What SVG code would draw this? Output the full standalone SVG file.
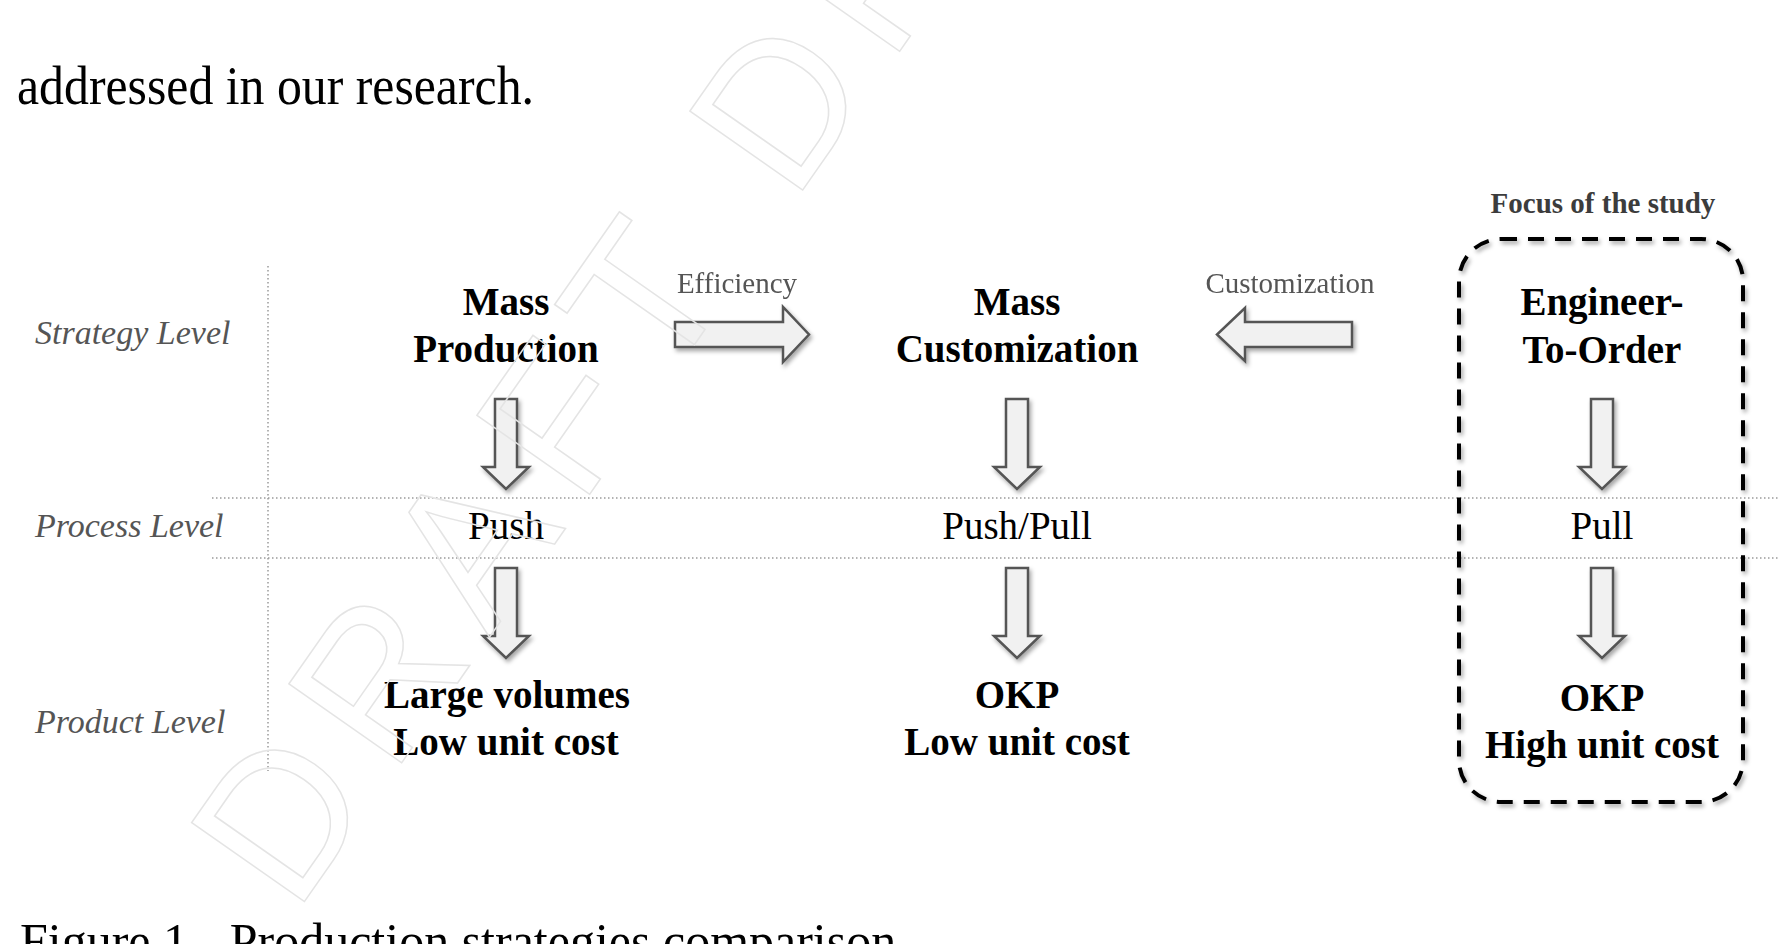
<svg xmlns="http://www.w3.org/2000/svg" xmlns:xlink="http://www.w3.org/1999/xlink" width="1778" height="944" viewBox="0 0 1778 944">
<style>
.para{font-family:"Liberation Serif",serif;font-size:54px;fill:#000}
.cap{font-family:"Liberation Serif",serif;font-size:50px;fill:#000}
.lvl{font-family:"Liberation Serif",serif;font-style:italic;font-size:34px;fill:#555}
.b{font-family:"Liberation Serif",serif;font-weight:bold;font-size:39px;fill:#000;text-anchor:middle}
.r{font-family:"Liberation Serif",serif;font-size:39px;fill:#000;text-anchor:middle}
.lab{font-family:"Liberation Serif",serif;font-size:29px;fill:#555;text-anchor:middle}
.focus{font-family:"Liberation Serif",serif;font-weight:bold;font-size:29px;fill:#3c3c3c;text-anchor:middle}
.dot{stroke:#9a9a9a;stroke-width:1.5;stroke-dasharray:1.5 2.5;fill:none}
.arr{fill:#f1f1f1;stroke:#555;stroke-width:2.5;stroke-linejoin:miter}
.wm{font-family:"Liberation Sans",sans-serif;font-size:200px;letter-spacing:25px;fill:none;stroke:#e4e4e4;stroke-width:1.5}
</style>
<defs>
<filter id="sh" x="-30%" y="-30%" width="160%" height="160%">
<feDropShadow dx="2" dy="3" stdDeviation="2" flood-color="#000" flood-opacity="0.35"/>
</filter>
<path id="down" d="M-11,0 H11 V68 H23 L0,90 L-23,68 H-11 Z"/>
</defs>
<rect width="1778" height="944" fill="#fff"/>

<text class="para" x="17" y="104" textLength="517" lengthAdjust="spacingAndGlyphs">addressed in our research.</text>

<g id="grid">
<line class="dot" x1="268" y1="266" x2="268" y2="771"/>
<line class="dot" x1="212" y1="498" x2="1778" y2="498"/>
<line class="dot" x1="212" y1="558" x2="1778" y2="558"/>
</g>

<g id="levels">
<text class="lvl" x="35" y="344">Strategy Level</text>
<text class="lvl" x="35" y="537">Process Level</text>
<text class="lvl" x="35" y="733">Product Level</text>
</g>

<g id="focus-box">
<text class="focus" x="1603" y="213">Focus of the study</text>
<rect x="1459" y="239" width="284" height="563" rx="42" ry="42" fill="none" stroke="#000" stroke-width="4" stroke-dasharray="16 11" filter="url(#sh)"/>
</g>

<g id="mass-production">
<text class="b" x="506" y="315">Mass</text>
<text class="b" x="506" y="362">Production</text>
</g>
<g id="mass-customization">
<text class="b" x="1017" y="315">Mass</text>
<text class="b" x="1017" y="362">Customization</text>
</g>
<g id="engineer-to-order">
<text class="b" x="1602" y="315">Engineer-</text>
<text class="b" x="1602" y="363">To-Order</text>
</g>

<g id="push"><text class="r" x="506" y="539">Push</text></g>
<g id="push-pull"><text class="r" x="1017" y="539">Push/Pull</text></g>
<g id="pull"><text class="r" x="1602" y="539">Pull</text></g>

<g id="mp-product">
<text class="b" x="507" y="708">Large volumes</text>
<text class="b" x="506" y="755">Low unit cost</text>
</g>
<g id="mc-product">
<text class="b" x="1017" y="708">OKP</text>
<text class="b" x="1017" y="755">Low unit cost</text>
</g>
<g id="eto-product">
<text class="b" x="1602" y="711">OKP</text>
<text class="b" x="1602" y="758">High unit cost</text>
</g>

<g id="connectors">
<g filter="url(#sh)">
<path class="arr" d="M675,322 H783 V307 L809,334.5 L783,362 V347 H675 Z"/>
<path class="arr" d="M1352,322 H1245 V308 L1217,334.5 L1245,361 V347 H1352 Z"/>
<use class="arr" xlink:href="#down" href="#down" x="506" y="399"/>
<use class="arr" xlink:href="#down" href="#down" x="1017" y="399"/>
<use class="arr" xlink:href="#down" href="#down" x="1602" y="399"/>
<use class="arr" xlink:href="#down" href="#down" x="506" y="568"/>
<use class="arr" xlink:href="#down" href="#down" x="1017" y="568"/>
<use class="arr" xlink:href="#down" href="#down" x="1602" y="568"/>
</g>
<text class="lab" x="737" y="293">Efficiency</text>
<text class="lab" x="1290" y="293">Customization</text>
</g>

<text class="cap" x="20" y="958">Figure 1 - Production strategies comparison</text>

<text class="wm" x="295" y="915" transform="rotate(-55 295 915)">DRAFT DRAFT</text>
</svg>
